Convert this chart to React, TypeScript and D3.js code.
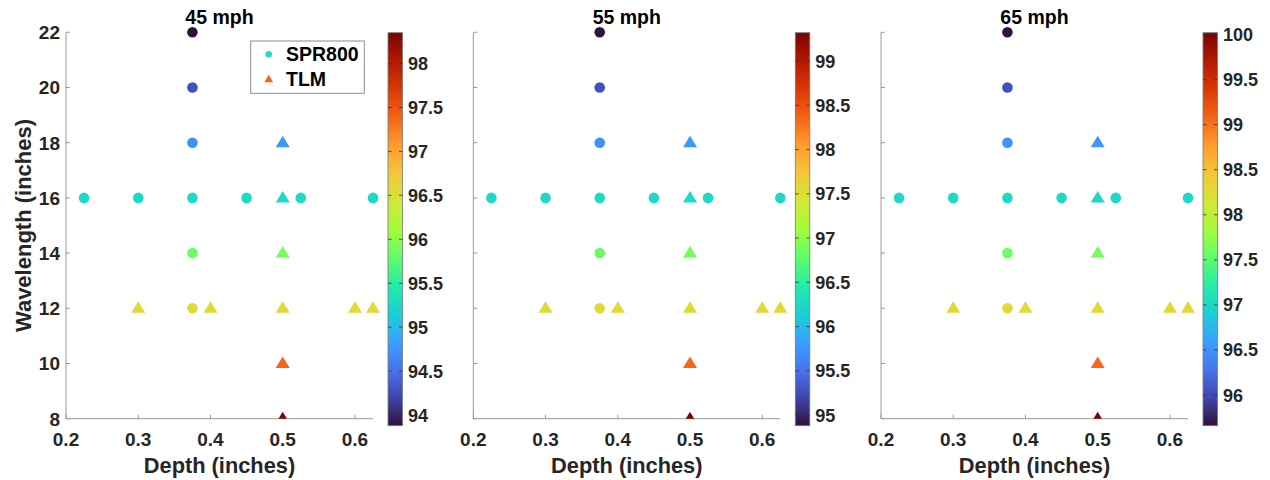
import React from 'react';
import * as d3 from 'd3';

// ---- data ----
const depthSPR = [0.375, 0.375, 0.375, 0.225, 0.3, 0.375, 0.45, 0.525, 0.625, 0.375, 0.375];
const waveSPR = [22, 20, 18, 16, 16, 16, 16, 16, 16, 14, 12];
const depthTLM = [0.5, 0.5, 0.5, 0.3, 0.4, 0.5, 0.6, 0.625, 0.5, 0.5];
const waveTLM = [18, 16, 14, 12, 12, 12, 12, 12, 10, 8];

const sprEff45 = [93.88, 94.28, 94.73, 95.27, 95.27, 95.27, 95.27, 95.27, 95.27, 95.85, 96.56];
const tlmEff45 = [94.77, 95.25, 95.89, 96.56, 96.56, 96.56, 96.56, 96.56, 97.37, 98.35];
const sprEff55 = [94.88, 95.28, 95.72, 96.26, 96.26, 96.26, 96.26, 96.26, 96.26, 96.83, 97.54];
const tlmEff55 = [95.77, 96.24, 96.88, 97.54, 97.54, 97.54, 97.54, 97.54, 98.34, 99.32];
const sprEff65 = [95.66, 96.05, 96.49, 97.01, 97.01, 97.01, 97.01, 97.01, 97.01, 97.58, 98.28];
const tlmEff65 = [96.53, 96.99, 97.62, 98.28, 98.28, 98.28, 98.28, 98.28, 99.06, 100.02];

const titles = ['45 mph', '55 mph', '65 mph'];
const cbTicks45 = [94, 94.5, 95, 95.5, 96, 96.5, 97, 97.5, 98];
const cbTicks55 = [95, 95.5, 96, 96.5, 97, 97.5, 98, 98.5, 99];
const cbTicks65 = [96, 96.5, 97, 97.5, 98, 98.5, 99, 99.5, 100];

const xTicks = [0.2, 0.3, 0.4, 0.5, 0.6];
const yTicks = [8, 10, 12, 14, 16, 18, 20, 22];
const seriesNames = ['SPR800', 'TLM'];

// turbo colormap key colours (MATLAB / Google turbo)
const turboColors = [
  '#30123b', '#4145ab', '#4675ed', '#39a2fc', '#1bcfd4', '#24eca6', '#61fc6c', '#a4fc3b',
  '#d1e834', '#f3c63a', '#fe9b2d', '#f36315', '#d93806', '#b11901', '#7a0402',
];

const panels = [
  { title: titles[0], spr: sprEff45, tlm: tlmEff45, cbTicks: cbTicks45 },
  { title: titles[1], spr: sprEff55, tlm: tlmEff55, cbTicks: cbTicks55 },
  { title: titles[2], spr: sprEff65, tlm: tlmEff65, cbTicks: cbTicks65 },
];

// ---- layout ----
const W = 1270;
const H = 480;
const panelLefts = [66, 473.3, 881];
const plotW = 307;
const top = 32.3;
const bottom = 418.7;
const cbOffset = 322;
const cbW = 14.5;
const cbTop = 32.7;
const cbBottom = 425.7;
const FONT = '"Liberation Sans", Arial, Helvetica, sans-serif';
const TXT = '#262626';
const AX = '#9a9a9a';
const TRI = 'M0,-7L7,4.5L-7,4.5Z';
const TRI_SMALL = 'M0,-4.5L4.5,3L-4.5,3Z';

const turbo = d3.piecewise(d3.interpolateRgb, turboColors);

function Panel({ idx }: { idx: number }) {
  const p = panels[idx];
  const left = panelLefts[idx];
  const x = d3.scaleLinear().domain([0.2, 0.625]).range([0, plotW]);
  const y = d3.scaleLinear().domain([8, 22]).range([bottom - top, 0]);
  const all = [...p.spr, ...p.tlm];
  const ext = d3.extent(all) as [number, number];
  const color = d3.scaleSequential(turbo).domain(ext);
  const cbScale = d3.scaleLinear().domain(ext).range([cbBottom - top, cbTop - top]);
  const innerH = bottom - top;
  const gradId = `grad${idx}`;
  const clipId = `clip${idx}`;
  const stops = d3.range(0, 1.0001, 1 / 28);

  return (
    <g transform={`translate(${left},${top})`}>
      <defs>
        <linearGradient id={gradId} x1="0" y1="1" x2="0" y2="0">
          {stops.map((s, i) => (
            <stop key={i} offset={s} stopColor={turbo(Math.min(1, s))} />
          ))}
        </linearGradient>
        <clipPath id={clipId}>
          <rect x={-60} y={-60} width={plotW + 120} height={innerH + 60} />
        </clipPath>
      </defs>

      {/* title */}
      <text
        x={plotW / 2}
        y={24 - top}
        textAnchor="middle"
        fontFamily={FONT}
        fontWeight="bold"
        fontSize={19.5}
        fill="#000"
      >
        {p.title}
      </text>

      {/* axes */}
      <line x1={0} x2={0} y1={0} y2={innerH} stroke={AX} strokeWidth={1} />
      <line x1={0} x2={plotW} y1={innerH} y2={innerH} stroke={AX} strokeWidth={1} />
      {yTicks.map((t) => (
        <g key={`y${t}`}>
          <line x1={0} x2={4} y1={y(t)} y2={y(t)} stroke={AX} />
          {idx === 0 && (
            <text
              x={-6}
              y={y(t)}
              dy="0.36em"
              textAnchor="end"
              fontFamily={FONT}
              fontWeight="bold"
              fontSize={19}
              fill={TXT}
            >
              {t}
            </text>
          )}
        </g>
      ))}
      {xTicks.map((t) => (
        <g key={`x${t}`}>
          <line x1={x(t)} x2={x(t)} y1={innerH} y2={innerH - 4} stroke={AX} />
          <text
            x={x(t)}
            y={446 - top}
            textAnchor="middle"
            fontFamily={FONT}
            fontWeight="bold"
            fontSize={19}
            fill={TXT}
          >
            {t}
          </text>
        </g>
      ))}
      <text
        x={plotW / 2}
        y={473 - top}
        textAnchor="middle"
        fontFamily={FONT}
        fontWeight="bold"
        fontSize={21.8}
        fill={TXT}
      >
        Depth (inches)
      </text>
      {idx === 0 && (
        <text
          transform={`translate(${31 - left},${innerH / 2}) rotate(-90)`}
          textAnchor="middle"
          fontFamily={FONT}
          fontWeight="bold"
          fontSize={22}
          fill={TXT}
        >
          Wavelength (inches)
        </text>
      )}

      {/* points */}
      <g clipPath={`url(#${clipId})`}>
        {depthSPR.map((d, i) => (
          <circle key={`s${i}`} cx={x(d)} cy={y(waveSPR[i])} r={5.3} fill={color(p.spr[i])} />
        ))}
        {depthTLM.map((d, i) => (
          <path
            key={`t${i}`}
            d={TRI}
            transform={`translate(${x(d)},${y(waveTLM[i])})`}
            fill={color(p.tlm[i])}
          />
        ))}
      </g>

      {/* colorbar */}
      <g transform={`translate(${cbOffset},0)`}>
        <rect
          x={0}
          y={cbTop - top}
          width={cbW}
          height={cbBottom - cbTop}
          fill={`url(#${gradId})`}
          stroke="#7a7a7a"
          strokeWidth={0.8}
        />
        {p.cbTicks.map((t) => (
          <g key={`c${t}`}>
            <line x1={cbW - 3.5} x2={cbW} y1={cbScale(t)} y2={cbScale(t)} stroke="#333" strokeWidth={0.8} />
            <line x1={0} x2={3.5} y1={cbScale(t)} y2={cbScale(t)} stroke="#333" strokeWidth={0.8} />
            <text
              x={cbW + 5.5}
              y={cbScale(t)}
              dy="0.36em"
              fontFamily={FONT}
              fontWeight="bold"
              fontSize={18}
              fill={TXT}
            >
              {String(t)}
            </text>
          </g>
        ))}
      </g>

      {/* legend */}
      {idx === 0 && (
        <g transform={`translate(${250.7 - left},${41 - top})`}>
          <rect x={0} y={0} width={113.6} height={52.3} fill="#fff" stroke="#8c8c8c" strokeWidth={1} />
          <circle cx={18} cy={13.3} r={3.2} fill={color(p.spr[3])} />
          <path d={TRI_SMALL} transform={`translate(18,38.3)`} fill={color(p.tlm[8])} />
          <text x={35.3} y={13.3} dy="0.36em" fontFamily={FONT} fontWeight="bold" fontSize={19.5} fill="#000">
            {seriesNames[0]}
          </text>
          <text x={35.3} y={38.3} dy="0.36em" fontFamily={FONT} fontWeight="bold" fontSize={19.5} fill="#000">
            {seriesNames[1]}
          </text>
        </g>
      )}
    </g>
  );
}

export default function App() {
  return (
    <svg
      width={W}
      height={H}
      style={{ position: 'absolute', left: 0, top: 0, background: '#fff' }}
    >
      <rect x={0} y={0} width={W} height={H} fill="#fff" />
      {panels.map((_, i) => (
        <Panel key={i} idx={i} />
      ))}
    </svg>
  );
}
